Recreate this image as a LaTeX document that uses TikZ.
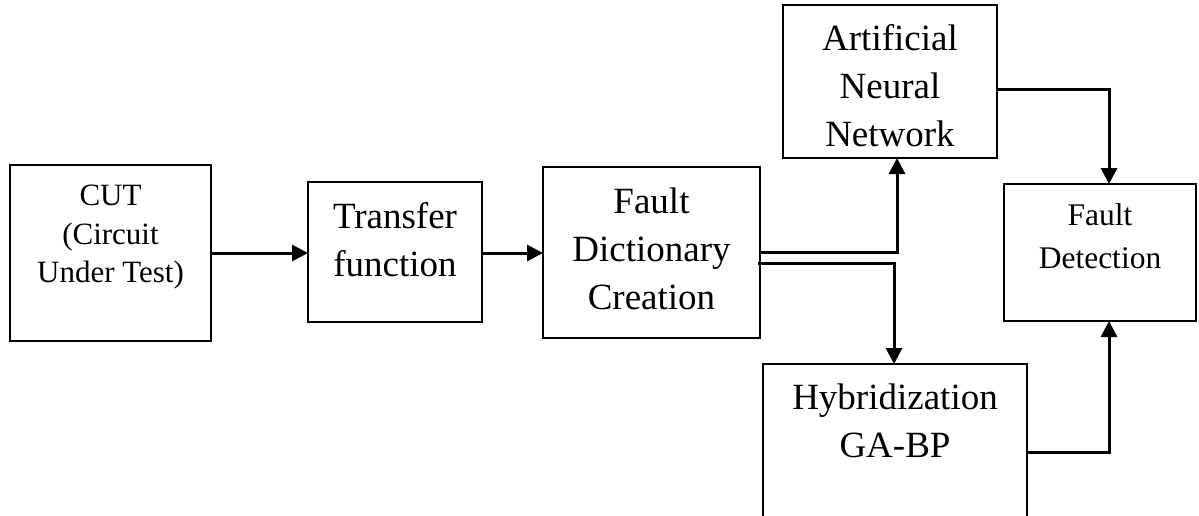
\documentclass[tikz,border=0pt]{standalone}
\usepackage{fontspec}
\setmainfont{Liberation Serif}
\usetikzlibrary{arrows.meta}
\begin{document}
\begin{tikzpicture}[x=1pt,y=-1pt,
  box/.style={draw, line width=1.8pt, inner sep=0pt, outer sep=0pt},
  conn/.style={draw, line width=3pt, -{Triangle[length=16pt,width=16pt]}},
  bigtxt/.style={font=\fontsize{37}{48}\selectfont, align=center, anchor=north, inner sep=0pt},
  cuttxt/.style={font=\fontsize{31}{38.5}\selectfont, align=center, anchor=north, inner sep=0pt},
  fdtxt/.style={font=\fontsize{31.5}{43}\selectfont, align=center, anchor=north, inner sep=0pt}]
\fill[white] (0,0) rectangle (1199,515);
\useasboundingbox (0,0) rectangle (1199,515);

% boxes
\node[box, minimum width=201pt, minimum height=176pt] (cut) at (110.5,253) {};
\node[box, minimum width=174pt, minimum height=140pt] (tf) at (395,252) {};
\node[box, minimum width=217pt, minimum height=171pt] (fdc) at (651.5,252.5) {};
\node[box, minimum width=214pt, minimum height=153pt] (ann) at (890,81.5) {};
\node[box, minimum width=192pt, minimum height=137pt] (fd) at (1100,252.5) {};
\node[box, minimum width=264pt, minimum height=176pt] (hyb) at (895,452) {};

% texts
\node[cuttxt] (cutt) at (110.5,178.4) {\strut CUT\\\strut(Circuit\\\strut Under Test)};
\node[bigtxt] (tft) at (395,194.4) {\strut Transfer\\\strut function};
\node[bigtxt] (fdct) at (651.5,179.4) {\strut Fault\\\strut Dictionary\\\strut Creation};
\node[bigtxt] (annt) at (890,16.4) {\strut Artificial\\\strut Neural\\\strut Network};
\node[fdtxt] (fdt) at (1100,194.9) {\strut Fault\\\strut Detection};
\node[bigtxt] (hybt) at (895,375.4) {\strut Hybridization\\\strut GA-BP};

% connectors
\draw[conn] (cut.east) -- (cut.east -| tf.west);
\draw[conn] ([yshift=-1pt]tf.east) -- ([yshift=-1pt]tf.east -| fdc.west);
\draw[conn] (fdc.east) -| ([xshift=7pt]ann.south);
\draw[conn] ([yshift=-10.5pt,xshift=-2pt]fdc.east) -| ([xshift=-1pt]hyb.north);
\draw[conn] ([yshift=-7.5pt]ann.east) -| ([xshift=9pt]fd.north);
\draw[conn] (hyb.east) -| ([xshift=9pt]fd.south);
\end{tikzpicture}
\end{document}
